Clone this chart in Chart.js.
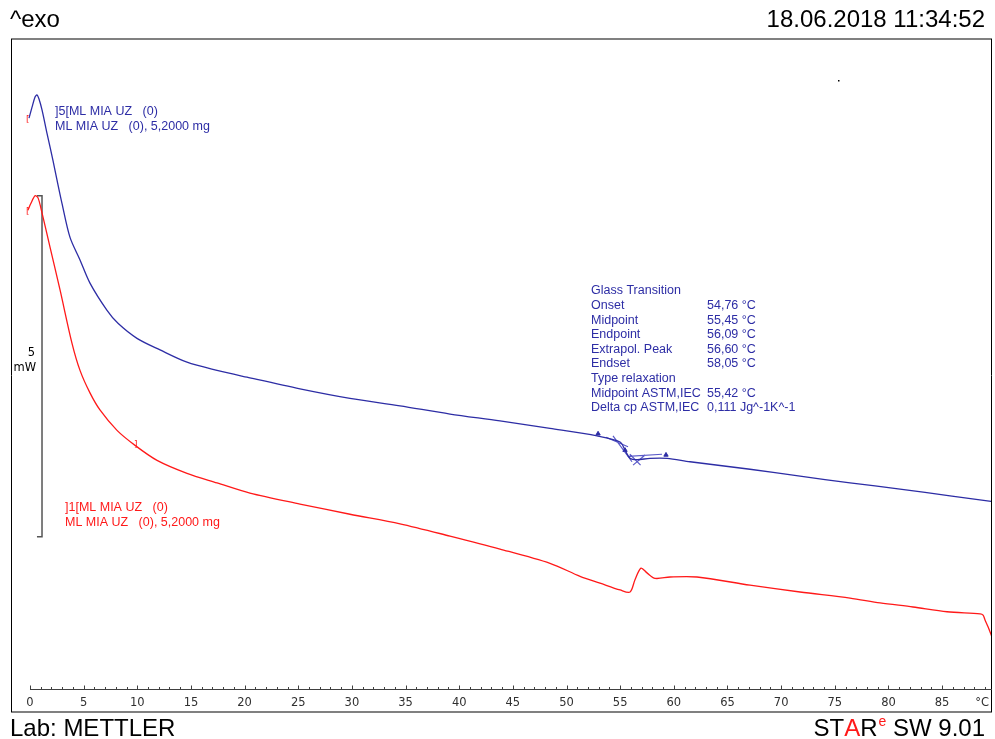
<!DOCTYPE html>
<html>
<head>
<meta charset="utf-8">
<title>DSC curves</title>
<script src="https://cdn.jsdelivr.net/npm/chart.js@4.4.1/dist/chart.umd.min.js"></script>
<style>
    html, body { margin: 0; padding: 0; background: #fff; overflow: hidden; }
    canvas { display: block; }
</style>
</head>
<body>
<canvas id="dsc-chart" width="995" height="739"></canvas>
<script>
// Temperature axis (°C) and tick labels
var tempMin = -1.77;
var tempMax = 89.65;
var tickLabels = ['0', '5', '10', '15', '20', '25', '30', '35', '40', '45', '50', '55', '60', '65', '70', '75', '80', '85'];

// Heat flow range (mW), 5 mW scale bar
var flowMin = 0;
var flowMax = 9.87;

// Curve ]5 (blue)
var blueTemp = [-0.09, 0.19, 0.47, 0.65, 0.84, 1.12, 1.58, 2.14, 2.52, 2.98, 3.73, 4.66, 5.59, 7.18, 8.20, 9.97, 12.12, 14.63, 17.43, 20.22, 25.16, 29.82, 34.48, 39.14, 43.80, 48.46, 52.84, 54.99, 55.45, 55.92, 56.57, 57.78, 59.37, 61.51, 67.10, 71.76, 76.42, 81.08, 85.74, 89.56];
var blueFlow = [8.71, 8.87, 9.02, 9.05, 8.99, 8.83, 8.49, 8.09, 7.80, 7.46, 6.96, 6.63, 6.29, 5.89, 5.70, 5.48, 5.31, 5.13, 5.01, 4.91, 4.74, 4.60, 4.49, 4.37, 4.27, 4.16, 4.05, 3.96, 3.84, 3.72, 3.70, 3.72, 3.72, 3.67, 3.56, 3.46, 3.36, 3.27, 3.17, 3.09];

// Curve ]1 (red)
var redTemp = [-0.19, 0.09, 0.47, 0.75, 1.12, 1.86, 2.80, 3.91, 4.66, 5.59, 6.52, 8.11, 9.79, 11.84, 14.63, 17.43, 20.50, 25.16, 29.82, 34.48, 39.14, 43.80, 48.46, 51.26, 53.12, 54.99, 55.92, 56.38, 56.94, 57.50, 58.25, 59.65, 62.16, 67.10, 71.76, 76.42, 79.22, 82.29, 85.46, 88.54, 88.82, 89.00, 89.28, 89.65];
var redFlow = [7.36, 7.46, 7.57, 7.54, 7.32, 6.82, 6.19, 5.41, 5.01, 4.68, 4.43, 4.13, 3.91, 3.69, 3.50, 3.36, 3.21, 3.05, 2.90, 2.76, 2.58, 2.39, 2.18, 1.99, 1.89, 1.79, 1.76, 1.94, 2.11, 2.04, 1.96, 1.98, 1.98, 1.86, 1.76, 1.67, 1.60, 1.54, 1.47, 1.44, 1.42, 1.35, 1.25, 1.10];

// Glass transition evaluation lines on the blue curve (null = break)
var evalTemp = [53.68, 55.73, null, 54.33, 56.10, null, 55.73, 58.90, null, 56.20, 57.32, null, 55.90, 56.90];
var evalFlow = [4.03, 3.89, null, 4.05, 3.67, null, 3.75, 3.78, null, 3.62, 3.77, null, 3.78, 3.62];
var flagTemp = [52.94, 55.45, 59.27];
var flagFlow = [4.08, 3.84, 3.77];

// 5 mW scale bar
var barTemp = [0.65, 1.12, 1.12, 0.65];
var barFlow = [7.57, 7.57, 2.57, 2.57];

// Glass transition result table
var gtNames = ['Glass Transition', 'Onset', 'Midpoint', 'Endpoint', 'Extrapol. Peak', 'Endset', 'Type relaxation', 'Midpoint ASTM,IEC', 'Delta cp ASTM,IEC'];
var gtValues = ['', '54,76 °C', '55,45 °C', '56,09 °C', '56,60 °C', '58,05 °C', '', '55,42 °C', '0,111 Jg^-1K^-1'];

var BLUE = 'rgb(45,45,165)';
var RED = 'rgb(255,25,25)';

function pairs(xs, ys) {
    var out = [];
    for (var i = 0; i < xs.length; i++) {
        out.push({ x: xs[i], y: ys[i] });
    }
    return out;
}

// Frame, axis ticks and all the texts
var decorPlugin = {
    id: 'decor',
    afterDraw: function(chart) {
        var ctx = chart.ctx;
        var area = chart.chartArea;
        var xs = chart.scales.x;
        var ys = chart.scales.y;
        ctx.save();

        // frame
        ctx.strokeStyle = '#808080';
        ctx.lineWidth = 2;
        ctx.beginPath();
        ctx.moveTo(area.left, area.top);
        ctx.lineTo(area.right, area.top);
        ctx.moveTo(area.left, area.bottom);
        ctx.lineTo(area.right, area.bottom);
        ctx.stroke();
        ctx.strokeStyle = '#000';
        ctx.lineWidth = 1;
        ctx.beginPath();
        ctx.moveTo(area.left + 0.5, area.top);
        ctx.lineTo(area.left + 0.5, area.bottom);
        ctx.moveTo(area.right - 0.5, area.top);
        ctx.lineTo(area.right - 0.5, area.bottom);
        ctx.stroke();

        // temperature ticks inside the frame
        var base = area.bottom - 22.5;
        ctx.strokeStyle = '#404040';
        ctx.beginPath();
        ctx.moveTo(xs.getPixelForValue(0), base);
        ctx.lineTo(area.right, base);
        for (var t = 0; t <= Math.floor(tempMax); t++) {
            var px = Math.round(xs.getPixelForValue(t)) + 0.5;
            var len = (t % 5 === 0) ? 4 : 2.5;
            ctx.moveTo(px, base);
            ctx.lineTo(px, base - len);
        }
        ctx.stroke();

        ctx.fillStyle = '#303030';
        ctx.font = '11.5px "DejaVu Sans"';
        ctx.textAlign = 'center';
        ctx.textBaseline = 'middle';
        tickLabels.forEach(function(lbl) {
            ctx.fillText(lbl, xs.getPixelForValue(parseFloat(lbl)), area.bottom - 9);
        });
        ctx.textAlign = 'right';
        ctx.fillText('°C', area.right - 3, area.bottom - 9);

        // scale bar label
        ctx.fillStyle = '#000';
        ctx.font = '11.5px "DejaVu Sans"';
        ctx.textAlign = 'right';
        ctx.fillText('5', 35, 353);
        ctx.fillText('mW', 36, 368);

        // curve labels
        ctx.textAlign = 'left';
        ctx.font = '12.5px "Liberation Sans"';
        ctx.fillStyle = BLUE;
        ctx.fillText(']5[ML MIA UZ   (0)', 55, 112);
        ctx.fillText('ML MIA UZ   (0), 5,2000 mg', 55, 127);
        ctx.fillStyle = RED;
        ctx.fillText(']1[ML MIA UZ   (0)', 65, 508);
        ctx.fillText('ML MIA UZ   (0), 5,2000 mg', 65, 523);

        // small range markers
        ctx.font = '9px "DejaVu Sans"';
        ctx.fillText('[', 26, ys.getPixelForValue(blueFlow[0]) + 2);
        ctx.fillText('[', 26, ys.getPixelForValue(redFlow[0]) + 2);
        ctx.fillText(']', xs.getPixelForValue(redTemp[12]) - 1, ys.getPixelForValue(redFlow[12]) - 1);

        // glass transition table
        ctx.fillStyle = BLUE;
        ctx.font = '12.5px "Liberation Sans"';
        for (var i = 0; i < gtNames.length; i++) {
            var yy = 291 + i * 14.6;
            ctx.fillText(gtNames[i], 591, yy);
            ctx.fillText(gtValues[i], 707, yy);
        }

        // header and footer
        ctx.fillStyle = '#000';
        ctx.font = '24px "Liberation Sans"';
        ctx.textAlign = 'left';
        ctx.fillText('^exo', 10, 20);
        ctx.fillText('Lab: METTLER', 10, 729);
        ctx.textAlign = 'right';
        ctx.fillText('18.06.2018 11:34:52', 985, 20);

        // STARe SW 9.01, right aligned with coloured letters
        ctx.textAlign = 'left';
        var parts = [['S', '#000', 24, 729], ['T', '#000', 24, 729], ['A', RED, 24, 729], ['R', '#000', 24, 729],
                     ['e', RED, 14, 722], [' SW 9.01', '#000', 24, 729]];
        var total = 0;
        parts.forEach(function(p) {
            ctx.font = p[2] + 'px "Liberation Sans"';
            total += ctx.measureText(p[0]).width + (p[0] === 'e' ? 1 : 0);
        });
        var x = 985 - total;
        parts.forEach(function(p) {
            ctx.font = p[2] + 'px "Liberation Sans"';
            ctx.fillStyle = p[1];
            ctx.fillText(p[0], x + (p[0] === 'e' ? 1 : 0), p[3]);
            x += ctx.measureText(p[0]).width + (p[0] === 'e' ? 1 : 0);
        });

        // stray dot
        ctx.fillStyle = '#000';
        ctx.fillRect(838, 80, 1.5, 1.5);

        ctx.restore();
    }
};

var dscChart = new Chart(document.getElementById('dsc-chart'), {
    type: 'line',
    data: {
        datasets: [{
            label: ']5[ML MIA UZ (0)',
            data: pairs(blueTemp, blueFlow),
            borderColor: BLUE,
            borderWidth: 1.3,
            pointRadius: 0,
            tension: 0.3
        }, {
            label: ']1[ML MIA UZ (0)',
            data: pairs(redTemp, redFlow),
            borderColor: RED,
            borderWidth: 1.3,
            pointRadius: 0,
            tension: 0.3
        }, {
            label: 'evaluation',
            data: pairs(evalTemp, evalFlow),
            borderColor: 'rgba(60,60,190,0.85)',
            borderWidth: 1.2,
            pointRadius: 0,
            spanGaps: false
        }, {
            label: 'flags',
            data: pairs(flagTemp, flagFlow),
            showLine: false,
            pointStyle: 'triangle',
            pointRadius: 2.5,
            backgroundColor: BLUE,
            borderColor: BLUE
        }, {
            label: 'scale',
            data: pairs(barTemp, barFlow),
            borderColor: '#555',
            borderWidth: 1.5,
            pointRadius: 0
        }]
    },
    options: {
        responsive: false,
        animation: false,
        layout: {
            autoPadding: false,
            padding: { left: 11, top: 39, right: 3, bottom: 27 }
        },
        plugins: {
            legend: { display: false },
            tooltip: { enabled: false }
        },
        scales: {
            x: { type: 'linear', min: tempMin, max: tempMax, display: false },
            y: { type: 'linear', min: flowMin, max: flowMax, display: false }
        }
    },
    plugins: [decorPlugin]
});
</script>
</body>
</html>
